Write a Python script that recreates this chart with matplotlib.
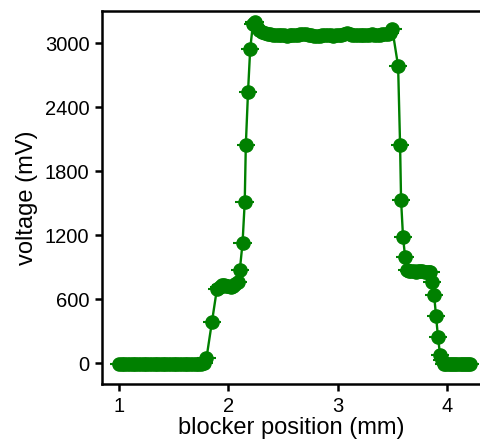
import matplotlib
matplotlib.use("Agg")
import matplotlib.pyplot as plt

plt.rcParams['font.family'] = ['Liberation Sans', 'DejaVu Sans']

# blocker position (mm)
x_low_left = [1.000, 1.025, 1.050, 1.075, 1.100, 1.125, 1.150, 1.175, 1.200, 1.225,
              1.250, 1.275, 1.300, 1.325, 1.350, 1.375, 1.400, 1.425, 1.450, 1.475,
              1.500, 1.525, 1.550, 1.575, 1.600, 1.625, 1.650, 1.675, 1.700, 1.725,
              1.750, 1.775]
v_low_left = [-12, -10, -11, -9, -10, -12, -10, -11, -9, -10,
              -10, -12, -11, -10, -9, -10, -11, -12, -10, -9,
              -10, -11, -10, -9, -10, -12, -10, -11, -9, -8,
              -5, 0]

x_rise = [1.800, 1.850, 1.895, 1.920, 1.940, 1.960, 1.980, 2.000, 2.020, 2.040,
          2.060, 2.085, 2.105, 2.130, 2.150, 2.160, 2.180, 2.200, 2.225, 2.240]
v_rise = [45, 385, 690, 715, 730, 735, 725, 720, 715, 720,
          740, 760, 870, 1125, 1510, 2045, 2540, 2945, 3180, 3200]

x_top = [2.260, 2.285, 2.310, 2.335, 2.360, 2.385, 2.410, 2.435, 2.460, 2.485,
         2.510, 2.535, 2.560, 2.585, 2.610, 2.635, 2.660, 2.685, 2.710, 2.735,
         2.760, 2.785, 2.810, 2.835, 2.860, 2.885, 2.910, 2.935, 2.960, 2.985,
         3.010, 3.035, 3.060, 3.085, 3.110, 3.135, 3.160, 3.185, 3.210, 3.235,
         3.260, 3.285, 3.310, 3.335, 3.360, 3.385, 3.410, 3.435, 3.460, 3.480,
         3.500]
v_top = [3150, 3120, 3105, 3095, 3090, 3085, 3080, 3078, 3075, 3073,
         3072, 3070, 3072, 3075, 3078, 3080, 3085, 3090, 3082, 3076,
         3072, 3070, 3068, 3070, 3072, 3075, 3074, 3072, 3070, 3072,
         3075, 3080, 3085, 3092, 3085, 3078, 3074, 3072, 3074, 3076,
         3078, 3080, 3082, 3080, 3078, 3080, 3082, 3085, 3088, 3095,
         3130]

x_fall = [3.553, 3.571, 3.580, 3.598, 3.617, 3.635, 3.655, 3.675, 3.695, 3.715,
          3.735, 3.755, 3.775, 3.795, 3.815, 3.835, 3.848, 3.864, 3.882, 3.900,
          3.918, 3.937, 3.955]
v_fall = [2785, 2045, 1530, 1180, 995, 870, 865, 862, 860, 858,
          860, 862, 860, 858, 855, 852, 850, 760, 640, 440,
          240, 75, 30]

x_low_right = [3.975, 3.995, 4.015, 4.035, 4.055, 4.075, 4.095, 4.115, 4.135, 4.155,
               4.175, 4.195, 4.210]
v_low_right = [-5, -10, -12, -10, -11, -9, -10, -12, -10, -11, -10, -12, -10]

position = x_low_left + x_rise + x_top + x_fall + x_low_right
voltage = v_low_left + v_rise + v_top + v_fall + v_low_right
position_err = [0.085] * len(position)

xticks = [1, 2, 3, 4]
yticks = [0, 600, 1200, 1800, 2400, 3000]

fig = plt.figure(figsize=(4.8, 4.46), dpi=100)
ax = fig.add_axes([0.2125, 0.139, 0.7875, 0.836])

ax.errorbar(position, voltage, xerr=position_err, color='green', ecolor='green',
            marker='o', markersize=9.5, linewidth=1.7, elinewidth=1.5, capsize=0)

ax.set_xlim(0.8445, 4.302)
ax.set_ylim(-197, 3300)
ax.set_xticks(xticks)
ax.set_yticks(yticks)
ax.set_xlabel('blocker position (mm)', fontsize=17, labelpad=1)
ax.set_ylabel('voltage (mV)', fontsize=17, labelpad=5)
ax.tick_params(labelsize=14.5, width=1.8, length=5, direction='out', pad=4)
for s in ['left', 'bottom', 'top']:
    ax.spines[s].set_linewidth(1.8)
ax.spines['right'].set_visible(False)

fig.savefig('out.png', dpi=100)
